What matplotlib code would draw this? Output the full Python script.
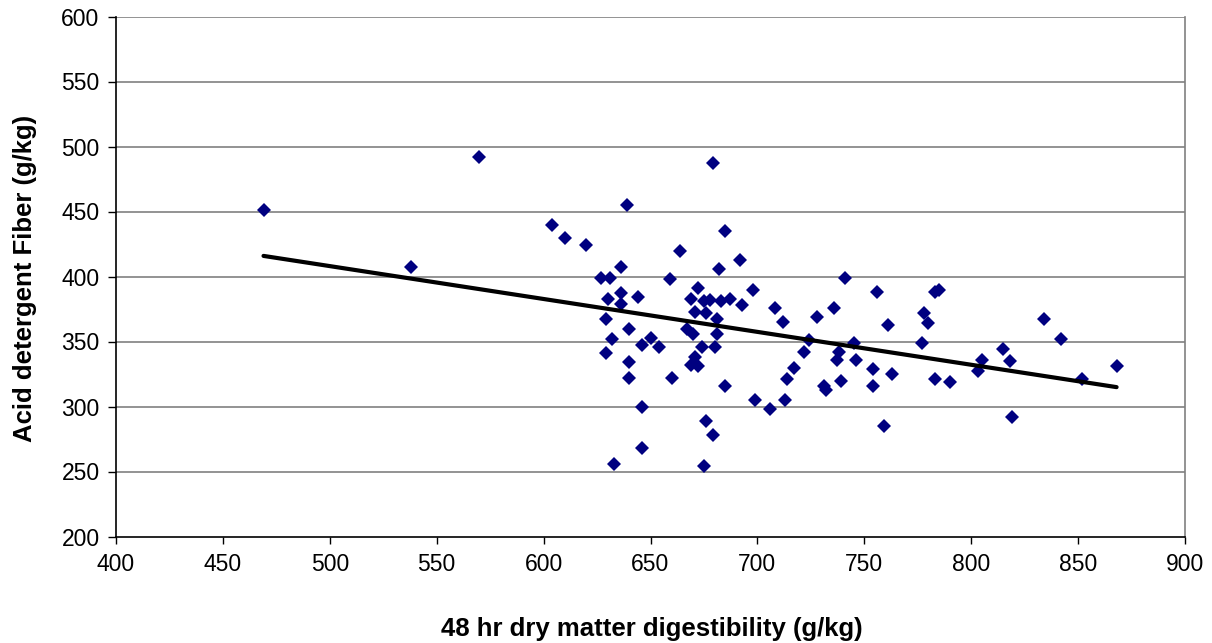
import numpy as np
import matplotlib
matplotlib.use("Agg")
import matplotlib.pyplot as plt

# 48 hr dry matter digestibility (g/kg) vs acid detergent fiber (g/kg)
digestibility = [
    469, 538, 570, 604, 610, 620, 639, 679, 685, 664,
    692, 636, 627, 631, 659, 682, 698, 672, 669, 675,
    678, 683, 687, 693, 708, 630, 636, 636, 644, 629,
    640, 632, 629, 646, 650, 654, 640, 640, 660, 646,
    646, 633, 675, 676, 679, 685, 699, 706, 671, 676,
    681, 667, 670, 681, 674, 680, 671, 669, 672, 741,
    756, 783, 785, 736, 728, 712, 761, 778, 780, 724,
    745, 777, 722, 738, 737, 746, 717, 714, 754, 763,
    739, 731, 732, 754, 783, 790, 713, 759, 805, 803,
    815, 818, 819, 834, 842, 852, 868,
]
adf = [
    451, 407, 492, 440, 430, 424, 455, 487, 435, 420,
    413, 407, 399, 399, 398, 406, 390, 391, 383, 381,
    382, 381, 383, 378, 376, 383, 387, 379, 384, 367,
    360, 352, 341, 347, 353, 346, 334, 322, 322, 300,
    268, 256, 254, 289, 278, 316, 305, 298, 373, 372,
    367, 360, 356, 356, 346, 346, 338, 332, 331, 399,
    388, 388, 390, 376, 369, 365, 363, 372, 364, 351,
    349, 349, 342, 342, 336, 336, 330, 321, 329, 325,
    320, 316, 313, 316, 321, 319, 305, 285, 336, 327,
    344, 335, 292, 367, 352, 321, 331,
]

# linear trendline
trend_slope = -0.253
trend_intercept = 534.5

x_ticks = list(range(400, 901, 50))
y_ticks = list(range(200, 601, 50))

plt.rcParams['font.family'] = ['Liberation Sans', 'DejaVu Sans']

W, H = 1212, 643
fig = plt.figure(figsize=(W / 100, H / 100), dpi=100)
ax = fig.add_axes([116 / W, 1 - 536.5 / H, (1185 - 116) / W, (536.5 - 16.5) / H])

for yt in y_ticks[1:]:
    ax.axhline(yt, color='#808080', lw=1.2, zorder=1)

x = np.array(digestibility)
ax.plot(x, adf, linestyle='none', marker='D', markersize=7.6,
        color='#000080', markeredgewidth=0, zorder=3)

xl = np.array([x.min(), x.max()])
ax.plot(xl, trend_slope * xl + trend_intercept, color='black', lw=3,
        solid_capstyle='round', zorder=4)

ax.set_xlim(400, 900)
ax.set_ylim(200, 600)
ax.set_xticks(x_ticks)
ax.set_yticks(y_ticks)
ax.tick_params(axis='x', direction='out', length=5, width=1, labelsize=16.5, pad=7)
ax.tick_params(axis='y', direction='out', length=5.8, width=1, labelsize=16.5, pad=6)

ax.spines['top'].set_visible(False)
ax.spines['right'].set_color('#808080')
ax.spines['right'].set_linewidth(1.2)
ax.spines['left'].set_linewidth(1.2)
ax.spines['bottom'].set_linewidth(1.2)

fig.text(652 / W, 1 - 636 / H, '48 hr dry matter digestibility (g/kg)',
         fontsize=18.5, fontweight='bold', ha='center', va='baseline')
fig.text(25 / W, 1 - 278 / H, 'Acid detergent Fiber (g/kg)',
         fontsize=18.5, fontweight='bold', ha='center', va='center', rotation=90)

fig.savefig('out.png', dpi=100)
